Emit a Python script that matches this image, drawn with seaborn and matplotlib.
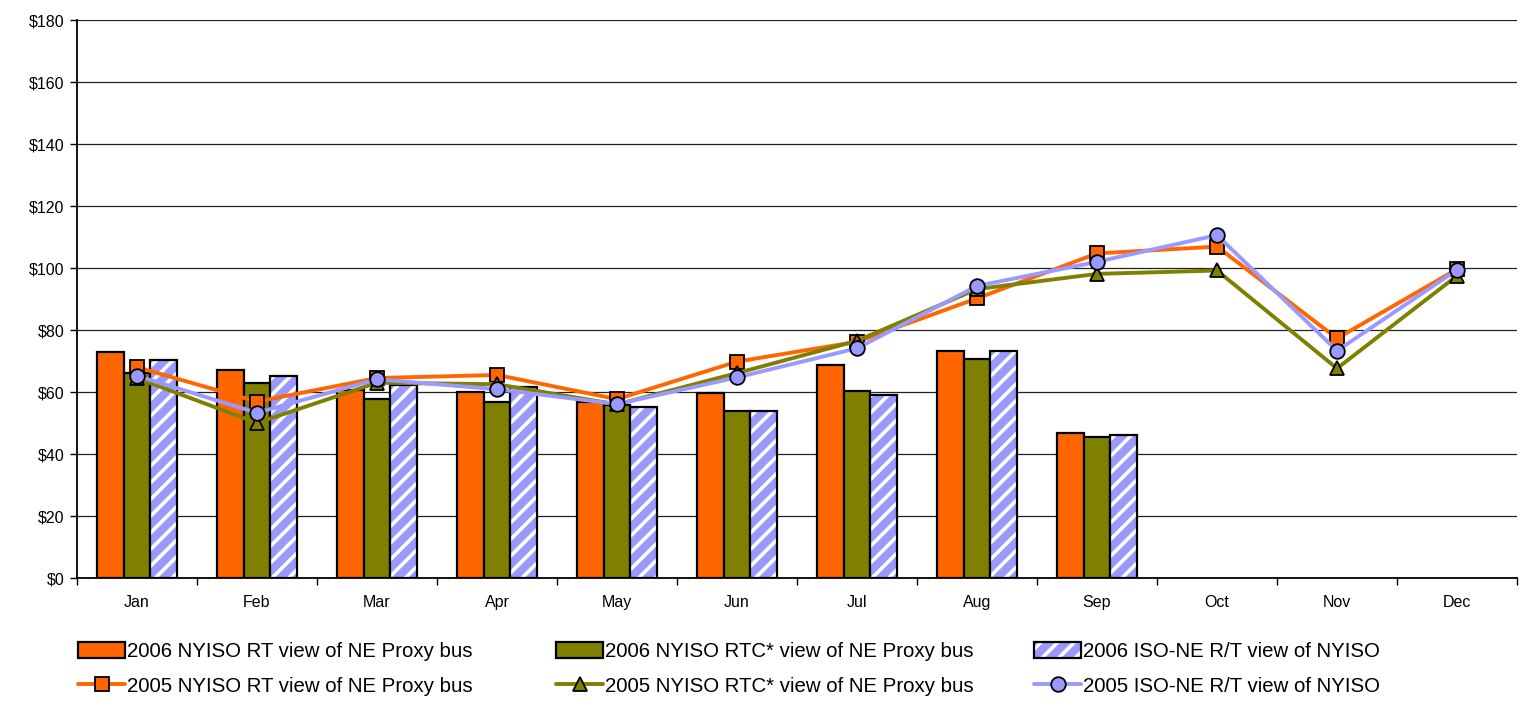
import numpy as np
import pandas as pd
import matplotlib
matplotlib.use("Agg")
import matplotlib.pyplot as plt
from matplotlib.patches import Rectangle
from matplotlib.lines import Line2D
import seaborn as sns

months = ["Jan", "Feb", "Mar", "Apr", "May", "Jun", "Jul", "Aug", "Sep", "Oct", "Nov", "Dec"]

bar_rt_2006 = [72.9, 67.1, 60.5, 60.0, 56.8, 59.7, 68.8, 73.2, 46.9, np.nan, np.nan, np.nan]
bar_rtc_2006 = [66.2, 63.0, 57.6, 56.7, 55.8, 54.0, 60.2, 70.8, 45.5, np.nan, np.nan, np.nan]
bar_isone_2006 = [70.2, 65.3, 62.2, 61.7, 55.3, 53.9, 59.1, 73.2, 46.2, np.nan, np.nan, np.nan]

line_rt_2005 = [68.0, 56.9, 64.5, 65.5, 57.7, 69.8, 76.2, 90.2, 104.7, 106.9, 77.3, 99.6]
line_rtc_2005 = [64.5, 50.0, 63.0, 62.5, 56.0, 66.1, 76.5, 93.2, 98.1, 99.2, 67.6, 97.5]
line_isone_2005 = [65.2, 53.3, 64.1, 60.9, 56.1, 64.7, 74.1, 94.2, 102.0, 110.6, 73.3, 99.4]

bar_labels = ["2006 NYISO RT view of NE Proxy bus",
              "2006 NYISO RTC* view of NE Proxy bus",
              "2006 ISO-NE R/T view of NYISO"]
line_labels = ["2005 NYISO RT view of NE Proxy bus",
               "2005 NYISO RTC* view of NE Proxy bus",
               "2005 ISO-NE R/T view of NYISO"]

c_orange = "#FF6600"
c_olive = "#808000"
c_blue = "#9999FF"

sns.set_theme(style="white")
plt.rcParams["font.family"] = ["Liberation Sans", "DejaVu Sans"]
plt.rcParams["hatch.linewidth"] = 2.6
plt.rcParams["text.color"] = "black"
plt.rcParams["xtick.color"] = "black"
plt.rcParams["ytick.color"] = "black"

fig = plt.figure(figsize=(15.24, 7.14), dpi=100)
ax = fig.add_axes([77 / 1524, 136 / 714, 1440 / 1524, 558 / 714])

df = pd.DataFrame({
    "month": months * 3,
    "value": bar_rt_2006 + bar_rtc_2006 + bar_isone_2006,
    "series": [bar_labels[0]] * 12 + [bar_labels[1]] * 12 + [bar_labels[2]] * 12,
})

sns.barplot(data=df, x="month", y="value", hue="series", order=months,
            hue_order=bar_labels, palette=[c_orange, c_olive, c_blue],
            saturation=1, width=0.667, edgecolor="black", linewidth=1.6,
            legend=False, ax=ax, zorder=2)

# hatched third series: white stripes + black outline
for bar in ax.containers[2]:
    if np.isnan(bar.get_height()) or bar.get_height() == 0:
        continue
    bar.set_edgecolor("white")
    bar.set_linewidth(0)
    bar.set_hatch("//")
    ax.add_patch(Rectangle(bar.get_xy(), bar.get_width(), bar.get_height(),
                           fill=False, edgecolor="black", linewidth=1.6, zorder=2.1))

x = np.arange(len(months))
line_specs = [(line_rt_2005, c_orange, "s", 10), (line_rtc_2005, c_olive, "^", 10),
              (line_isone_2005, c_blue, "o", 10.5)]
for vals, col, mk, ms in line_specs:
    sns.lineplot(x=x, y=vals, color=col, linewidth=2.8, marker=mk, markersize=ms,
                 markeredgecolor="black", markeredgewidth=1.3, ax=ax, zorder=3)

ax.set_xlim(-0.5, 11.5)
ax.set_ylim(0, 180)
ax.set_yticks(np.arange(0, 181, 20))
ax.set_yticklabels([f"${v}" for v in range(0, 181, 20)], fontsize=11.5, color="black")
ax.set_xticks(x)
ax.set_xticklabels(months, fontsize=11.5, color="black")
ax.set_xticks(np.arange(-0.5, 12, 1), minor=True)
ax.tick_params(axis="x", which="major", length=0, pad=12)
ax.tick_params(axis="x", which="minor", length=5, width=1, color="black", direction="out", bottom=True)
ax.tick_params(axis="y", which="major", length=5, width=1, color="black", direction="out", left=True, pad=4)
ax.set_xlabel("")
ax.set_ylabel("")
ax.yaxis.grid(True, color="#222222", linewidth=0.9)
ax.set_axisbelow(True)
for s in ["top", "right"]:
    ax.spines[s].set_visible(False)
for s in ["left", "bottom"]:
    ax.spines[s].set_color("black")
    ax.spines[s].set_linewidth(1.3)

# legend: three columns, each a two-row legend
h_bar1 = Rectangle((0, 0), 1, 1, facecolor=c_orange, edgecolor="black", linewidth=1.6)
h_bar2 = Rectangle((0, 0), 1, 1, facecolor=c_olive, edgecolor="black", linewidth=1.6)
h_bar3a = Rectangle((0, 0), 1, 1, facecolor=c_blue, edgecolor="white", linewidth=0, hatch="//")
h_bar3b = Rectangle((0, 0), 1, 1, fill=False, edgecolor="black", linewidth=1.6)
h_l1 = Line2D([], [], color=c_orange, lw=2.8, marker="s", ms=10, mec="black", mew=1.3)
h_l2 = Line2D([], [], color=c_olive, lw=2.8, marker="^", ms=10, mec="black", mew=1.3)
h_l3 = Line2D([], [], color=c_blue, lw=2.8, marker="o", ms=10.5, mec="black", mew=1.3)

columns = [([h_bar1, h_l1], [bar_labels[0], line_labels[0]], 70),
           ([h_bar2, h_l2], [bar_labels[1], line_labels[1]], 548),
           ([(h_bar3a, h_bar3b), h_l3], [bar_labels[2], line_labels[2]], 1026)]
for hs, ls, xpx in columns:
    fig.legend(hs, ls, loc="upper left", bbox_to_anchor=(xpx / 1524, 1 - 634 / 714),
               frameon=False, fontsize=14.7, handlelength=2.3, handleheight=0.8,
               handletextpad=0.1, labelspacing=0.76, borderaxespad=0,
               labelcolor="black")

fig.savefig("out.png", dpi=100)
